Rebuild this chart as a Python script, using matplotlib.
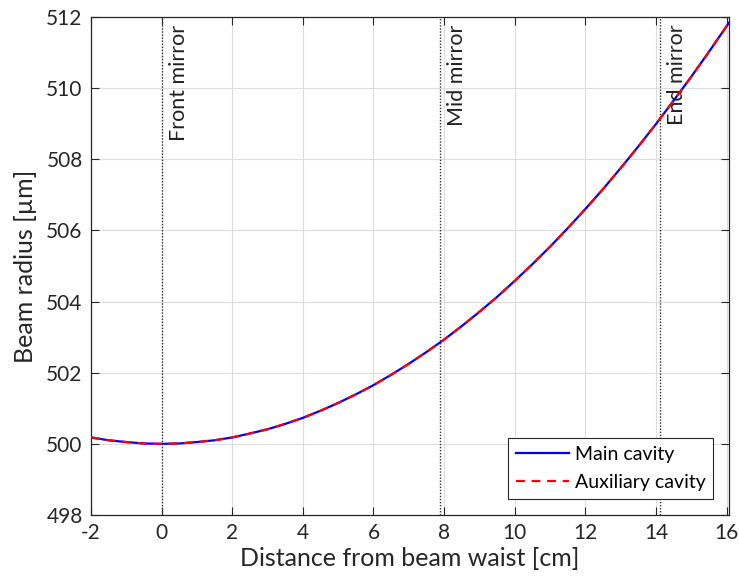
import matplotlib
matplotlib.use("Agg")
import matplotlib.pyplot as plt
import numpy as np

# Beam radius along the cavity axis (cm -> µm)
distance_cm = [-2.0, -1.5, -1.0, -0.5, 0.0, 0.5, 1.0, 1.5, 2.0, 2.5, 3.0, 3.5,
               4.0, 4.5, 5.0, 5.5, 6.0, 6.5, 7.0, 7.5, 8.0, 8.5, 9.0, 9.5,
               10.0, 10.5, 11.0, 11.5, 12.0, 12.5, 13.0, 13.5, 14.0, 14.5,
               15.0, 15.5, 16.0, 16.07]
main_cavity_um = [500.18, 500.10, 500.05, 500.01, 500.00, 500.01, 500.05, 500.10,
                  500.18, 500.29, 500.41, 500.56, 500.73, 500.93, 501.15, 501.39,
                  501.65, 501.94, 502.25, 502.58, 502.93, 503.31, 503.71, 504.13,
                  504.58, 505.05, 505.54, 506.06, 506.60, 507.16, 507.75, 508.36,
                  508.99, 509.65, 510.32, 511.02, 511.74, 511.84]
aux_cavity_um = [500.18, 500.10, 500.05, 500.01, 500.00, 500.01, 500.05, 500.10,
                 500.18, 500.29, 500.41, 500.56, 500.73, 500.93, 501.15, 501.39,
                 501.65, 501.94, 502.25, 502.58, 502.93, 503.31, 503.71, 504.13,
                 504.58, 505.05, 505.54, 506.06, 506.60, 507.16, 507.75, 508.36,
                 508.99, 509.65, 510.32, 511.02, 511.74, 511.84]

mirror_names = ["Front mirror", "Mid mirror", "End mirror"]
mirror_pos_cm = [0.0, 7.88, 14.11]

x_ticks = [-2, 0, 2, 4, 6, 8, 10, 12, 14, 16]
y_ticks = [498, 500, 502, 504, 506, 508, 510, 512]

plt.rcParams['font.family'] = ['Lato', 'DejaVu Sans']
axis_col = (0.15, 0.15, 0.15)

fig = plt.figure(figsize=(7.39, 5.87), dpi=100)
ax = fig.add_axes([0.1231, 0.1227, 0.8634, 0.8483])

ax.plot(distance_cm, main_cavity_um, color='#0000ff', lw=1.6, label='Main cavity', zorder=3)
ax.plot(distance_cm, aux_cavity_um, color='#ff0000', lw=1.6, ls=(0, (4, 3)),
        label='Auxiliary cavity', zorder=4)

for name, pos in zip(mirror_names, mirror_pos_cm):
    ax.axvline(pos, color='#333333', lw=1.0, ls=(0, (1, 1.2)), zorder=2)
    ax.text(pos + 0.2, 511.78, name, rotation=90, ha='left', va='top',
            fontsize=15.5, color='#222222')

ax.set_xlim(-2, 16.07)
ax.set_ylim(498, 512)
ax.set_xticks(x_ticks)
ax.set_yticks(y_ticks)
ax.set_xticklabels([str(v) for v in x_ticks])
ax.grid(True, color='#dddddd', lw=0.8, zorder=0)
ax.set_axisbelow(True)

ax.tick_params(direction='in', length=6, width=0.8, top=True, right=True,
               labelsize=15, colors=axis_col, pad=6)
for s in ax.spines.values():
    s.set_color(axis_col)
    s.set_linewidth(0.9)

ax.set_xlabel('Distance from beam waist [cm]', fontsize=18, color=axis_col, labelpad=3)
ax.set_ylabel('Beam radius [µm]', fontsize=18, color=axis_col, labelpad=7)

leg = ax.legend(loc='lower right', fontsize=14, handlelength=2.7, fancybox=False,
                framealpha=1, edgecolor=axis_col, borderpad=0.4, labelspacing=0.6,
                handletextpad=0.3, borderaxespad=0, bbox_to_anchor=(0.975, 0.032))
leg.get_frame().set_linewidth(0.8)

fig.savefig('out.png', dpi=100)
